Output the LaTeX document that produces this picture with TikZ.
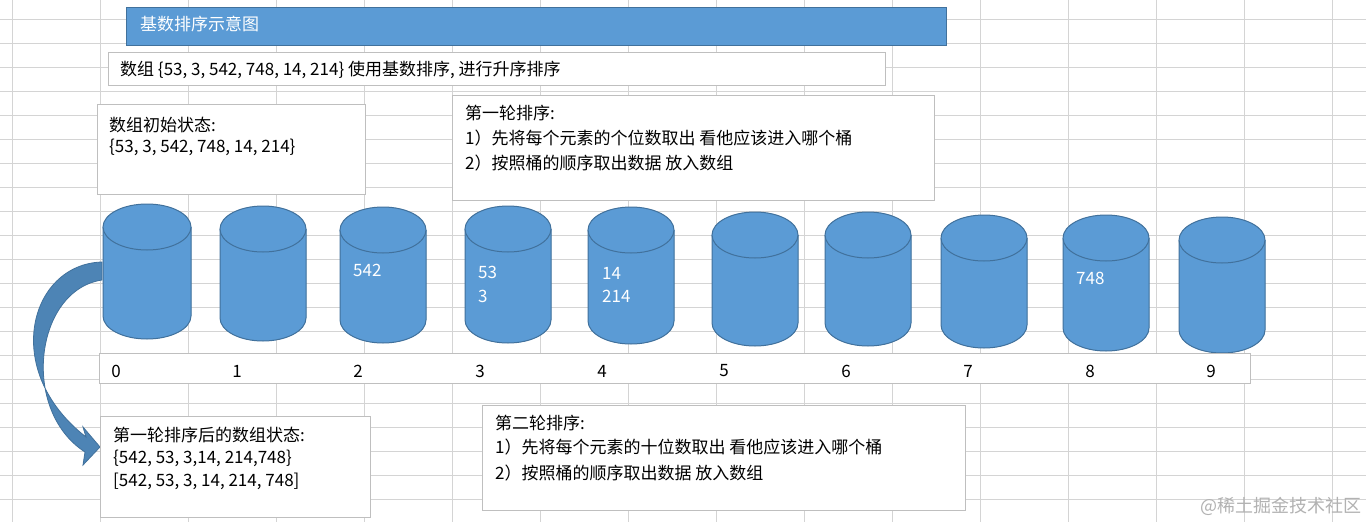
\documentclass[tikz,border=0pt]{standalone}
\usepackage{fontspec}
\setmainfont{Noto Sans CJK SC}
\definecolor{bfill}{HTML}{5B9BD5}
\definecolor{bedge}{HTML}{41719C}
\definecolor{gridc}{HTML}{D4D4D4}
\definecolor{boxe}{HTML}{BFBFBF}
\tikzset{
  tbox/.style={draw=boxe,fill=white,line width=0.8pt},
  txt/.style={anchor=west,inner sep=0pt,font=\fontsize{17}{20}\selectfont},
  wtxt/.style={txt,text=white},
  cyl/.style={fill=bfill,draw=bedge,line width=1pt}
}
\newcommand{\bucket}[5]{% name, cx, top-center y, bottom-center y, rx
  \fill[bfill] (#2-#5,#3) -- (#2-#5,#4) arc[start angle=180,end angle=360,x radius=#5,y radius=-23] -- (#2+#5,#3) -- cycle;
  \draw[cyl] (#2-#5,#3) -- (#2-#5,#4) arc[start angle=180,end angle=360,x radius=#5,y radius=-23] -- (#2+#5,#3);
  \draw[cyl] (#2,#3) ellipse[x radius=#5,y radius=23];
  \coordinate (#1) at (#2,#3);
}
\begin{document}
\begin{tikzpicture}[x=1pt,y=-1pt]
\useasboundingbox (0,0) rectangle (1366,522);
\fill[white] (0,0) rectangle (1366,522);
\foreach \i in {0,...,15} \draw[gridc,line width=0.8pt] (12+88*\i,0) -- (12+88*\i,522);
\foreach \j in {0,...,21} \draw[gridc,line width=0.8pt] (0,19+24*\j) -- (1366,19+24*\j);
% title
\draw[bedge,fill=bfill,line width=1pt] (126,7) rectangle (946,45);
\node[wtxt] (title) at (140,24) {基数排序示意图};
\draw[tbox] (108,52) rectangle (885,85);
\node[txt] (desc) at (120,70) {数组 \{53, 3, 542, 748, 14, 214\} 使用基数排序, 进行升序排序};
\draw[tbox] (97,104) rectangle (365,194);
\node[txt] (init1) at (109,125) {数组初始状态:};
\node[txt] (init2) at (109,147) {\{53, 3, 542, 748, 14, 214\}};
\draw[tbox] (452,95) rectangle (934,200);
\node[txt] (r1a) at (465,113) {第一轮排序:};
\node[txt] (r1b) at (465,138) {1）先将每个元素的个位数取出 看他应该进入哪个桶};
\node[txt] (r1c) at (465,163) {2）按照桶的顺序取出数据 放入数组};
% buckets
\bucket{b0}{147}{227}{316}{44}
\bucket{b1}{263}{229}{318}{43}
\bucket{b2}{383}{230}{320}{43}
\bucket{b3}{508}{229}{320}{43}
\bucket{b4}{631}{230}{321}{43}
\bucket{b5}{755}{235}{323}{43}
\bucket{b6}{868}{235}{323}{43}
\bucket{b7}{984}{238}{325}{43}
\bucket{b8}{1106}{238}{328}{43}
\bucket{b9}{1222}{240}{330}{43}
\node[wtxt] (v2) at (353,270) {542};
\node[wtxt] (v3a) at (478,272) {53};
\node[wtxt] (v3b) at (478,296) {3};
\node[wtxt] (v4a) at (602,273) {14};
\node[wtxt] (v4b) at (602,296) {214};
\node[wtxt] (v8) at (1076,278) {748};
% index bar
\draw[tbox] (99,353) rectangle (1250,383);
\foreach \k/\x in {0/116,1/237,2/358,3/480,4/602,5/724,6/846,7/968,8/1090,9/1211}
  \node[font=\fontsize{17}{20}\selectfont,inner sep=0pt] (i\k) at (\x,371) {\k};
% curved arrow
\fill[bfill!85!black,draw=bedge,line width=0.8pt]
  (102,262) .. controls (30,264) and (0,370) .. (86,437)
  -- (83,427) -- (100,447) -- (83,465) -- (85,452)
  .. controls (20,410) and (35,290) .. (102,280) -- cycle;
% after round 1
\draw[tbox] (100,416) rectangle (370,517);
\node[txt] (a1) at (113,435) {第一轮排序后的数组状态:};
\node[txt] (a2) at (113,458) {\{542, 53, 3,14, 214,748\}};
\node[txt] (a3) at (113,481) {[542, 53, 3, 14, 214, 748]};
\draw[tbox] (482,405) rectangle (965,510);
\node[txt] (r2a) at (495,423) {第二轮排序:};
\node[txt] (r2b) at (495,447) {1）先将每个元素的十位数取出 看他应该进入哪个桶};
\node[txt] (r2c) at (495,473) {2）按照桶的顺序取出数据 放入数组};
\node[txt,text=gray!60,font=\fontsize{18}{20}\selectfont] (wm) at (1200,506) {@稀土掘金技术社区};
\end{tikzpicture}
\end{document}
